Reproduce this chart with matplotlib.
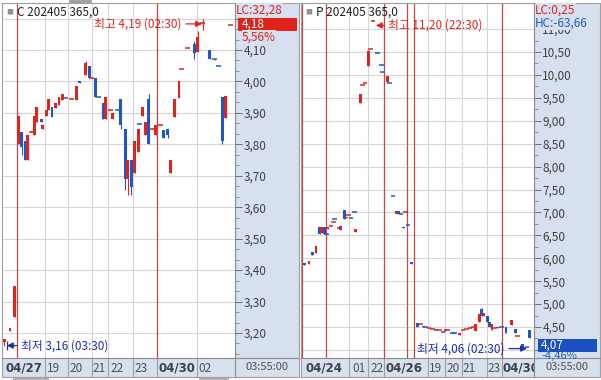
import matplotlib
matplotlib.use("Agg")
import matplotlib.pyplot as plt
from matplotlib.patches import Rectangle
from matplotlib.lines import Line2D
from matplotlib.ticker import FixedLocator, AutoMinorLocator, FuncFormatter

plt.rcParams['font.family'] = ['Noto Sans CJK KR', 'DejaVu Sans']

W, H = 601, 380
RED = '#e0241c'
BLUE = '#1f58c4'
NAVY = '#1c30a8'
VRED = '#c44848'
GRID = '#d6d6d6'
AREA = '#d6e0ee'
EDGE = '#a0a0a0'
TXT = '#404040'

# ---- left chart: C 202405 365,0  (t = bar slot, o/h/l/c prices)
# doji: close = open +/- 0.001 (sign gives the colour)
c_t = [0.3, 2.0, 3.4, 4.3, 5.4, 6.3, 7.1, 8.0, 8.9, 9.7, 10.9, 11.4, 12.3, 13.1, 14.0,
       15.1, 16.0, 16.9, 18.0, 19.7, 20.9, 22.0, 23.7, 24.6, 25.4, 26.3, 27.4, 28.6,
       29.4, 30.6, 31.4, 32.6, 33.7, 34.9, 35.7, 36.6, 37.7, 38.6, 39.1, 40.0, 40.6,
       41.7, 42.6, 43.7, 44.9, 46.0, 47.1, 48.0, 49.1, 50.3, 51.1, 52.6, 54.6, 55.7,
       57.0, 59.1, 60.5, 61.7, 62.6, 63.7, 65.1]
c_o = [3.170, 3.205, 3.250, 3.800, 3.840, 3.810, 3.750, 3.840, 3.830, 3.870, 3.880, 3.850,
       3.890, 3.910, 3.920, 3.915, 3.925, 3.940, 3.947, 3.945, 3.940, 4.000, 4.020, 4.050,
       4.010, 4.010, 3.950, 3.930, 3.880, 3.910, 3.880, 3.910, 3.945, 3.850, 3.690, 3.750,
       3.710, 3.775, 3.865, 3.890, 3.830, 3.945, 3.850, 3.830, 3.860, 3.845, 3.850, 3.710,
       3.887, 3.947, 4.040, 4.106, 4.120, 4.095, 4.185, 4.100, 4.070, 4.050, 3.950, 3.885,
       4.180]
c_c = [3.180, 3.215, 3.350, 3.890, 3.790, 3.750, 3.830, 3.841, 3.890, 3.920, 3.870, 3.860,
       3.910, 3.945, 3.887, 3.930, 3.950, 3.960, 3.946, 3.946, 3.985, 3.995, 4.058, 4.010,
       4.011, 3.950, 3.949, 3.880, 3.950, 3.911, 3.900, 3.909, 3.860, 3.690, 3.750, 3.665,
       3.810, 3.850, 3.864, 3.920, 3.870, 3.800, 3.851, 3.860, 3.861, 3.820, 3.830, 3.750,
       3.945, 4.000, 4.041, 4.107, 4.090, 4.140, 4.186, 4.070, 4.069, 4.049, 3.810, 3.955,
       4.181]
c_h = [3.180, 3.215, 3.350, 3.890, 3.840, 3.810, 3.830, 3.841, 3.890, 3.920, 3.880, 3.860,
       3.910, 3.945, 3.920, 3.930, 3.950, 3.960, 3.947, 3.946, 3.985, 4.000, 4.065, 4.050,
       4.011, 4.010, 3.950, 3.930, 3.950, 3.911, 3.900, 3.910, 3.945, 3.850, 3.750, 3.750,
       3.810, 3.850, 3.865, 3.920, 3.870, 3.960, 3.851, 3.860, 3.861, 3.845, 3.850, 3.750,
       3.945, 4.000, 4.041, 4.107, 4.130, 4.160, 4.190, 4.100, 4.070, 4.050, 3.950, 3.955,
       4.181]
c_l = [3.160, 3.205, 3.250, 3.800, 3.765, 3.750, 3.750, 3.840, 3.830, 3.870, 3.870, 3.850,
       3.890, 3.910, 3.887, 3.915, 3.925, 3.940, 3.946, 3.945, 3.940, 3.995, 4.020, 4.010,
       4.010, 3.950, 3.949, 3.880, 3.880, 3.910, 3.880, 3.909, 3.850, 3.655, 3.640, 3.640,
       3.710, 3.775, 3.864, 3.890, 3.830, 3.800, 3.850, 3.830, 3.860, 3.820, 3.820, 3.710,
       3.887, 3.947, 4.040, 4.106, 4.070, 4.095, 4.185, 4.070, 4.069, 4.049, 3.800, 3.885,
       4.180]

# ---- right chart: P 202405 365,0
p_t = [0.6, 2.0, 2.9, 4.0, 5.1, 5.7, 6.3, 6.9, 7.4, 8.3, 8.9, 9.4, 10.6, 10.9, 12.1, 12.7,
       13.4, 14.0, 14.9, 15.4, 16.7, 17.4, 18.0, 18.9, 19.7, 20.3, 21.7, 22.6, 23.1, 24.3,
       24.9, 26.0, 27.1, 27.7, 28.3, 28.9, 29.7, 30.3, 31.4, 32.9, 34.0, 34.6, 35.4, 36.3,
       37.4, 38.3, 39.4, 40.3, 40.9, 41.7, 42.9, 43.7, 45.1, 46.0, 46.9, 48.0, 48.9, 49.7,
       50.6, 51.4, 52.0, 52.9, 53.7, 54.3, 55.1, 56.0, 57.1, 58.3, 60.0, 60.9, 61.7, 63.1,
       64.3, 65.1]
p_o = [5.90, 5.87, 6.13, 6.12, 6.68, 6.55, 6.68, 6.52, 6.64, 6.71, 6.79, 6.86, 6.67, 6.62,
       7.05, 6.87, 6.95, 6.88, 7.00, 6.58, 9.38, 9.77, 9.83, 10.20, 10.57, 11.18, 10.48,
       10.22, 10.07, 9.85, 9.83, 7.36, 6.97, 7.03, 6.97, 6.69, 7.02, 6.73, 5.91, 4.58, 4.56,
       4.53, 4.50, 4.48, 4.46, 4.44, 4.43, 4.40, 4.42, 4.43, 4.37, 4.36, 4.32, 4.44, 4.45,
       4.47, 4.50, 4.41, 4.62, 4.89, 4.73, 4.73, 4.62, 4.44, 4.48, 4.47, 4.50, 4.50, 4.54,
       4.45, 4.30, 4.12, 4.07, 4.43]
p_c = [5.86, 5.95, 6.07, 6.27, 6.52, 6.68, 6.52, 6.519, 6.68, 6.711, 6.791, 6.859, 6.669,
       6.70, 6.86, 6.91, 6.951, 6.879, 6.999, 6.64, 9.58, 9.771, 9.831, 10.52, 10.571,
       11.181, 10.479, 10.219, 10.069, 9.97, 9.829, 7.359, 7.03, 6.97, 6.969, 6.65, 7.021,
       6.729, 5.87, 4.50, 4.561, 4.51, 4.499, 4.481, 4.461, 4.439, 4.431, 4.399, 4.45,
       4.431, 4.369, 4.359, 4.37, 4.441, 4.451, 4.471, 4.501, 4.56, 4.78, 4.73, 4.80, 4.62,
       4.50, 4.56, 4.481, 4.50, 4.499, 4.38, 4.65, 4.38, 4.301, 4.07, 4.069, 4.25]
p_h = [5.90, 5.95, 6.13, 6.27, 6.68, 6.68, 6.68, 6.52, 6.68, 6.711, 6.791, 6.86, 6.67, 6.70,
       7.05, 6.91, 6.951, 6.88, 7.00, 6.64, 9.58, 9.771, 9.831, 10.52, 10.571, 11.20, 10.48,
       10.22, 10.07, 9.97, 9.83, 7.36, 7.03, 7.03, 6.97, 6.69, 7.021, 6.73, 5.91, 4.58,
       4.561, 4.53, 4.50, 4.481, 4.461, 4.44, 4.431, 4.40, 4.45, 4.431, 4.37, 4.36, 4.37,
       4.441, 4.451, 4.471, 4.501, 4.56, 4.78, 4.92, 4.80, 4.73, 4.62, 4.56, 4.481, 4.50,
       4.50, 4.50, 4.65, 4.45, 4.301, 4.12, 4.07, 4.43]
p_l = [5.86, 5.87, 6.07, 6.12, 6.52, 6.55, 6.52, 6.519, 6.64, 6.71, 6.79, 6.859, 6.669,
       6.62, 6.86, 6.87, 6.95, 6.879, 6.999, 6.58, 9.38, 9.77, 9.83, 10.20, 10.57, 11.18,
       10.479, 10.219, 10.069, 9.85, 9.829, 7.359, 6.97, 6.97, 6.969, 6.65, 7.02, 6.729,
       5.87, 4.50, 4.56, 4.51, 4.499, 4.48, 4.46, 4.439, 4.43, 4.399, 4.42, 4.43, 4.369,
       4.359, 4.32, 4.44, 4.45, 4.47, 4.50, 4.41, 4.62, 4.73, 4.73, 4.62, 4.50, 4.44, 4.48,
       4.47, 4.499, 4.38, 4.54, 4.38, 4.30, 4.06, 4.069, 4.25]

# x axis: grid lines, day boundaries and labels (bar slots)
c_grid = [12.0, 18.6, 25.4, 30.0, 37.1, 44.0, 55.4]
c_day = [4.0, 44.0]
c_lab_t = [0.6, 12.6, 19.1, 25.7, 30.6, 37.7, 44.3, 55.7]
c_lab = ['04/27', '19', '20', '21', '22', '23', '04/30', '02']
p_grid = [13.4, 18.9, 23.4, 36.0, 40.9, 45.7, 52.9, 57.1]
p_day = [0.0, 6.9, 23.4, 30.0, 32.0, 57.1]
p_lab_t = [0.9, 14.3, 19.7, 24.0, 36.3, 41.2, 46.0, 53.1, 57.4]
p_lab = ['04/24', '01', '22', '04/26', '19', '20', '21', '23', '04/30']

c_ticks = [3.2, 3.3, 3.4, 3.5, 3.6, 3.7, 3.8, 3.9, 4.0, 4.1, 4.2]
p_ticks = [4.0, 4.5, 5.0, 5.5, 6.0, 6.5, 7.0, 7.5, 8.0, 8.5, 9.0, 9.5, 10.0, 10.5, 11.0]


def box(x0, y0, x1, y1):
    return [x0 / W, 1 - y1 / H, (x1 - x0) / W, (y1 - y0) / H]


def fx(px):
    return px / W


def fy(py):
    return 1 - py / H


def candles(ax, t, o, h, l, c):
    for ti, oi, hi, li, ci in zip(t, o, h, l, c):
        col = RED if ci >= oi else BLUE
        if hi > li:
            ax.vlines(ti, li, hi, color=col, lw=0.8, zorder=3)
        if abs(ci - oi) <= 0.0015:
            ax.hlines(oi, ti - 0.7, ti + 0.7, color=col, lw=1.1, zorder=3)
        else:
            ax.bar(ti, ci - oi, bottom=oi, width=0.85, color=col, lw=0, zorder=3)


def comma(v, pos):
    return f"{v:.2f}".replace('.', ',')


def panel(fig, x0, x1, xmax, ylim, ticks, minor, grid, day, lab_t, lab, hide):
    ax = fig.add_axes(box(x0, 4, x1, 358))
    ax.set_xlim(0, xmax)
    ax.set_ylim(*ylim)
    for s in ax.spines.values():
        s.set_visible(False)
    ax.set_xticks([])
    ax.yaxis.tick_right()
    ax.yaxis.set_major_locator(FixedLocator(ticks))
    ax.yaxis.set_minor_locator(AutoMinorLocator(minor))
    ax.yaxis.set_major_formatter(FuncFormatter(lambda v, p: '' if hide(v) else comma(v, p)))
    ax.tick_params(axis='y', which='major', direction='out', length=5, width=0.7,
                   color='#707070', labelsize=8.5, labelcolor=TXT, pad=1)
    ax.tick_params(axis='y', which='minor', direction='out', length=3, width=0.7,
                   color='#909090')
    ax.grid(axis='y', which='major', color=GRID, lw=0.8)
    for g in grid:
        ax.axvline(g, color=GRID, lw=0.8, zorder=1)
    for d in day:
        ax.axvline(d, color=VRED, lw=0.9, zorder=2)

    axb = fig.add_axes(box(x0, 358, x1, 377), facecolor=AREA)
    axb.set_xlim(0, xmax)
    axb.set_ylim(0, 1)
    axb.set_xticks([])
    axb.set_yticks([])
    for s in axb.spines.values():
        s.set_visible(False)
    for g in grid:
        axb.axvline(g, color=EDGE, lw=0.8)
    for t, s in zip(lab_t, lab):
        bold = '/' in s
        axb.text(t, 0.47, s, ha='left', va='center', fontsize=8.5,
                 fontweight='bold' if bold else 'normal',
                 color='#404048' if bold else '#505050', clip_on=True,
                 family=['DejaVu Sans'] if bold else None)
    return ax


fig = plt.figure(figsize=(W / 100, H / 100), dpi=100)
fig.patch.set_facecolor('white')

# axis areas (blue-grey)
for a0, a1 in [(235, 299), (534, 600)]:
    fig.patches.append(Rectangle((fx(a0), fy(377)), (a1 - a0) / W, 373 / H,
                                 transform=fig.transFigure, fc=AREA, ec='none', zorder=-1))

# 4,20 and 4,00 sit under the current-price boxes
ax1 = panel(fig, 3, 235, 66.3, (3.1205, 4.2463), c_ticks, 3, c_grid, c_day,
            c_lab_t, c_lab, lambda v: v > 4.15)
ax2 = panel(fig, 302, 534, 66.3, (3.824, 11.548), p_ticks, 2, p_grid, p_day,
            p_lab_t, p_lab, lambda v: v < 4.25)

candles(ax1, c_t, c_o, c_h, c_l, c_c)
candles(ax2, p_t, p_o, p_h, p_l, p_c)

# frames
def fline(xs, ys, col=EDGE, lw=0.8):
    fig.lines.append(Line2D([fx(x) for x in xs], [fy(y) for y in ys],
                            transform=fig.transFigure, color=col, lw=lw))

for l0, a0, r0 in [(2, 235, 299), (301, 534, 600)]:
    fline([l0, r0, r0, l0, l0], [3, 3, 377, 377, 3])
    fline([a0, a0], [3, 377], '#8a8a8a')
    fline([l0, r0], [358, 358], '#8a8a8a')
fline([70, 90], [1, 1], '#9a9a9a', 2)
fline([14, 48], [379, 379], '#b0b0b0', 1.5)
fline([200, 228], [379, 379], '#b0b0b0', 1.5)

# headers
for px, name in [(6, 'C 202405 365,0'), (305, 'P 202405 365,0')]:
    fig.text(fx(px), fy(12), '■', fontsize=5, color='#909090', va='center', ha='left')
    fig.text(fx(px + 11), fy(12), name, fontsize=8.5, color='#202020', va='center', ha='left')

# high / low markers
arrow = dict(arrowstyle='-|>', lw=0.9, shrinkA=1, shrinkB=0, mutation_scale=9)
ax1.annotate('최고 4,19 (02:30)', xy=(56.9, 4.183), xytext=(51.1, 4.183), ha='right',
             va='center', fontsize=8.5, color=RED, arrowprops=dict(arrow, color=RED))
ax1.vlines(57.2, 4.165, 4.20, color=RED, lw=0.9)
ax1.annotate('최저 3,16 (03:30)', xy=(1.1, 3.16), xytext=(5.1, 3.16), ha='left',
             va='center', fontsize=8.5, color=NAVY, arrowprops=dict(arrow, color=NAVY))
ax1.vlines(1.2, 3.145, 3.175, color=NAVY, lw=0.9)
ax2.annotate('최고 11,20 (22:30)', xy=(21.1, 11.08), xytext=(24.6, 11.08), ha='left',
             va='center', fontsize=8.5, color=RED, arrowprops=dict(arrow, color=RED))
ax2.annotate('최저 4,06 (02:30)', xy=(64.3, 4.03), xytext=(58.0, 4.03), ha='right',
             va='center', fontsize=8.5, color=NAVY, arrowprops=dict(arrow, color=NAVY))

# right-side info boxes
fig.text(fx(236), fy(10), 'LC:32,28', fontsize=8.5, color=RED, va='center', ha='left',
         bbox=dict(fc=AREA, ec='none', pad=0.2))
fig.patches.append(Rectangle((fx(238), fy(31)), 59 / W, 13 / H, transform=fig.transFigure,
                             fc=RED, ec='none', zorder=2.5))
fig.text(fx(242), fy(24.5), '4,18', fontsize=8.5, color='white', va='center', ha='left')
fig.text(fx(242), fy(37), '5,56%', fontsize=8.5, color=RED, va='center', ha='left',
         bbox=dict(fc=AREA, ec='none', pad=0.2))

fig.text(fx(535), fy(10), 'LC:0,25', fontsize=8.5, color=RED, va='center', ha='left',
         bbox=dict(fc=AREA, ec='none', pad=0.2))
fig.text(fx(535), fy(23), 'HC:-63,66', fontsize=8.5, color='#1f5fbf', va='center',
         ha='left', bbox=dict(fc=AREA, ec='none', pad=0.3))
fig.patches.append(Rectangle((fx(538), fy(352)), 59 / W, 13 / H, transform=fig.transFigure,
                             fc='#1c50c0', ec='none', zorder=2.5))
fig.text(fx(541), fy(345.5), '4,07', fontsize=8.5, color='white', va='center', ha='left')
fig.text(fx(541), fy(356), '-4,46%', fontsize=8, color='#1f5fbf', va='center', ha='left')

for cx in [267, 567]:
    fig.text(fx(cx), fy(367.5), '03:55:00', fontsize=8, color='#505050', va='center',
             ha='center')

fig.savefig('out.png', dpi=100)
